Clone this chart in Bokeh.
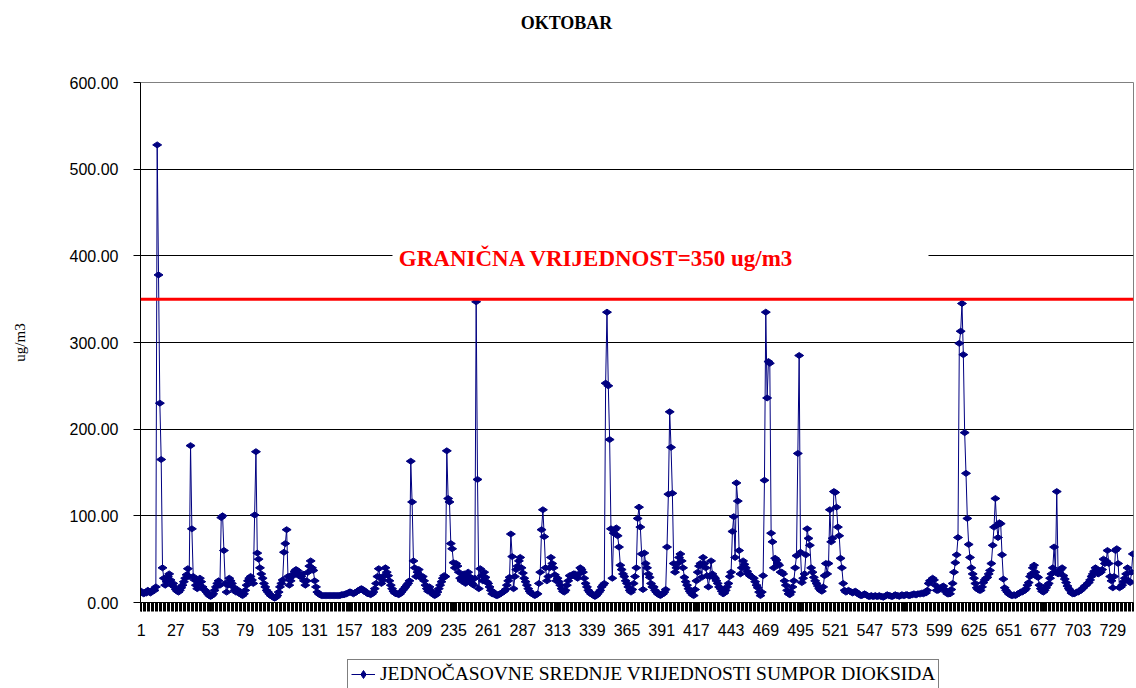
import numpy as np
from bokeh.plotting import figure
from bokeh.layouts import column
from bokeh.models import (Range1d, FixedTicker, PrintfTickFormatter, Span, Label,
                          BoxAnnotation, Legend, LegendItem)
from bokeh.embed import file_html
from bokeh.resources import INLINE

chart_title = "OKTOBAR"
series_name = "JEDNOČASOVNE SREDNJE VRIJEDNOSTI SUMPOR DIOKSIDA"
y_axis_title = "ug/m3"
limit_value = 350
limit_text = "GRANIČNA VRIJEDNOST=350 ug/m3"
x_tick_labels = [1, 27, 53, 79, 105, 131, 157, 183, 209, 235, 261, 287, 313, 339,
                 365, 391, 417, 443, 469, 495, 521, 547, 573, 599, 625, 651, 677, 703, 729]
y_tick_values = [0, 100, 200, 300, 400, 500, 600]

# hourly SO2 values (ug/m3), one list per day of October
day01 = [13, 11, 10, 12, 11, 14, 12, 11, 13, 15, 14, 18, 528, 378, 230, 165, 40, 28, 20, 24, 30, 33, 26, 20]
day02 = [22, 18, 15, 13, 12, 14, 17, 20, 24, 28, 32, 39, 30, 181, 85, 30, 26, 20, 16, 22, 28, 24, 18, 15]
day03 = [14, 12, 10, 8, 7, 8, 10, 14, 18, 22, 25, 20, 98, 100, 60, 22, 12, 20, 28, 25, 22, 18, 14, 12]
day04 = [15, 12, 10, 9, 8, 10, 14, 20, 25, 28, 30, 26, 22, 101, 174, 57, 50, 40, 33, 28, 22, 18, 14, 12]
day05 = [10, 8, 7, 6, 5, 6, 8, 12, 18, 22, 26, 58, 68, 84, 30, 20, 25, 30, 33, 36, 38, 37, 33, 30]
day06 = [30, 33, 25, 20, 25, 35, 42, 48, 40, 37, 25, 18, 12, 10, 9, 8, 8, 8, 8, 8, 8, 8, 8, 8]
day07 = [8, 8, 8, 8, 8, 8, 9, 9, 9, 10, 10, 11, 12, 12, 11, 10, 11, 12, 13, 14, 15, 16, 15, 14]
day08 = [12, 11, 10, 10, 9, 10, 12, 16, 22, 30, 39, 29, 22, 26, 31, 40, 35, 31, 25, 20, 16, 13, 11, 10]
day09 = [10, 9, 10, 12, 14, 16, 18, 20, 22, 25, 163, 116, 48, 40, 30, 35, 38, 31, 28, 30, 25, 20, 16, 13]
day10 = [18, 14, 11, 9, 8, 9, 12, 16, 20, 24, 28, 31, 30, 175, 120, 116, 68, 62, 46, 40, 45, 42, 35, 28]
day11 = [25, 30, 33, 22, 28, 35, 30, 25, 22, 20, 28, 347, 142, 16, 39, 31, 25, 35, 29, 24, 22, 18, 14, 10]
day12 = [12, 9, 8, 8, 9, 10, 11, 12, 13, 15, 20, 25, 29, 79, 53, 16, 30, 38, 42, 48, 52, 40, 34, 28]
day13 = [24, 20, 16, 13, 11, 10, 9, 8, 9, 10, 22, 35, 84, 107, 76, 40, 25, 30, 40, 52, 45, 40, 32, 25]
day14 = [28, 24, 20, 16, 13, 12, 14, 20, 25, 31, 30, 32, 33, 33, 30, 28, 33, 40, 38, 35, 28, 22, 18, 14]
day15 = [12, 10, 9, 8, 7, 8, 10, 12, 14, 18, 20, 22, 253, 335, 250, 188, 85, 28, 80, 84, 86, 77, 64, 43]
day16 = [38, 33, 30, 25, 22, 18, 14, 12, 15, 22, 30, 40, 97, 110, 87, 56, 15, 57, 45, 40, 33, 29, 22, 18]
day17 = [18, 14, 12, 10, 9, 8, 9, 10, 12, 15, 64, 125, 220, 179, 126, 45, 35, 40, 45, 52, 56, 48, 40, 29]
day18 = [24, 20, 16, 13, 11, 9, 8, 15, 25, 35, 42, 45, 29, 52, 45, 40, 31, 18, 30, 48, 33, 30, 28, 25]
day19 = [22, 18, 16, 13, 10, 11, 14, 18, 22, 30, 35, 82, 99, 52, 138, 117, 60, 33, 40, 48, 44, 40, 36, 33]
day20 = [31, 30, 29, 28, 24, 20, 17, 12, 8, 12, 31, 141, 335, 236, 278, 276, 80, 70, 40, 51, 49, 45, 43, 35]
day21 = [35, 33, 25, 20, 14, 10, 9, 12, 18, 25, 40, 54, 172, 285, 58, 23, 28, 33, 55, 85, 74, 66, 40, 35]
day22 = [29, 25, 22, 19, 16, 14, 13, 18, 31, 45, 33, 45, 107, 70, 74, 128, 127, 110, 87, 77, 51, 40, 22, 14]
day23 = [12, 13, 14, 13, 12, 11, 12, 13, 12, 10, 9, 8, 8, 9, 10, 9, 8, 7, 7, 8, 7, 7, 8, 7]
day24 = [7, 8, 7, 7, 6, 7, 8, 9, 8, 8, 7, 7, 8, 9, 8, 8, 7, 8, 9, 8, 8, 9, 9, 8]
day25 = [8, 9, 9, 10, 9, 9, 10, 10, 10, 11, 10, 11, 11, 14, 22, 25, 26, 28, 26, 20, 14, 14, 16, 16]
day26 = [18, 19, 15, 12, 10, 10, 10, 15, 22, 35, 46, 55, 75, 299, 313, 345, 286, 196, 149, 97, 67, 52, 40, 33]
day27 = [28, 22, 17, 15, 14, 14, 18, 23, 26, 28, 29, 33, 37, 45, 66, 87, 120, 89, 75, 92, 91, 55, 27, 17]
day28 = [14, 12, 10, 9, 8, 8, 9, 8, 9, 10, 11, 12, 12, 13, 14, 16, 20, 23, 30, 33, 40, 43, 35, 30]
day29 = [29, 20, 16, 13, 12, 14, 17, 20, 22, 28, 33, 40, 64, 35, 128, 33, 35, 38, 40, 31, 27, 23, 19, 16]
day30 = [14, 11, 10, 10, 11, 12, 12, 13, 14, 16, 17, 19, 20, 22, 23, 26, 30, 33, 36, 40, 37, 33, 34, 35]
day31 = [38, 50, 45, 48, 60, 45, 30, 25, 17, 30, 60, 62, 45, 17, 18, 20, 24, 28, 33, 40, 25, 23, 35, 56]

days = [day01, day02, day03, day04, day05, day06, day07, day08, day09, day10,
        day11, day12, day13, day14, day15, day16, day17, day18, day19, day20,
        day21, day22, day23, day24, day25, day26, day27, day28, day29, day30, day31]
so2 = [v for d in days for v in d]
hours = list(range(1, len(so2) + 1))
n = len(so2)

W = 1136
TOP_H, MAIN_H, LEG_H = 44, 600, 44
FRAME_L, FRAME_R = 140, 1133   # page x of the plot frame (strips share it)
NAVY = "#000080"


def strip_figure(height, y_lo, y_hi):
    # x data units = page pixels, because the column aligns all frames
    f = figure(width=W, height=height, output_backend="svg", toolbar_location=None,
               x_range=Range1d(FRAME_L, FRAME_R), y_range=Range1d(y_lo, y_hi),
               x_axis_location=None, y_axis_location=None,
               min_border=0, min_border_left=FRAME_L, min_border_right=W - FRAME_R,
               min_border_top=0, min_border_bottom=0,
               background_fill_color="white", border_fill_color="white")
    f.grid.visible = False
    f.outline_line_color = None
    return f


# ---- title strip ----
p_top = strip_figure(TOP_H, 0, TOP_H)
p_top.add_layout(Label(x=566, y=TOP_H - 22, text=chart_title, text_align="center",
                       text_baseline="middle", text_font="Liberation Serif",
                       text_font_style="bold", text_font_size="18px",
                       text_color="#000000"))

# ---- main chart ----
p = figure(width=W, height=MAIN_H, output_backend="svg", toolbar_location=None,
           x_range=Range1d(0.5, n + 0.5), y_range=Range1d(0, 600),
           min_border_left=FRAME_L, min_border_right=W - FRAME_R,
           min_border_top=38, min_border_bottom=42,
           background_fill_color="white", border_fill_color="white")
p.outline_line_color = "#808080"
p.outline_line_width = 1

p.xgrid.visible = False
p.ygrid.grid_line_color = "#000000"
p.ygrid.grid_line_width = 1

p.yaxis.ticker = FixedTicker(ticks=y_tick_values)
p.yaxis.formatter = PrintfTickFormatter(format="%.2f")
p.yaxis.major_label_text_font = "Liberation Sans"
p.yaxis.major_label_text_font_size = "16px"
p.yaxis.major_label_text_color = "#000000"
p.yaxis.major_tick_in = 0
p.yaxis.major_tick_out = 7
p.yaxis.major_tick_line_color = "#000000"
p.yaxis.minor_tick_line_color = None
p.yaxis.axis_line_color = "#000000"
p.yaxis.major_label_standoff = 15
p.yaxis.axis_label = y_axis_title
p.yaxis.axis_label_text_font = "Liberation Serif"
p.yaxis.axis_label_text_font_size = "15px"
p.yaxis.axis_label_text_font_style = "normal"
p.yaxis.axis_label_text_color = "#000000"
p.yaxis.axis_label_standoff = 39

p.xaxis.ticker = FixedTicker(ticks=x_tick_labels,
                             minor_ticks=list(np.arange(0.5, n + 1, 1.0)))
p.xaxis.major_label_text_font = "Liberation Sans"
p.xaxis.major_label_text_font_size = "16px"
p.xaxis.major_label_text_color = "#000000"
p.xaxis.major_tick_in = 0
p.xaxis.major_tick_out = 9
p.xaxis.minor_tick_in = 0
p.xaxis.minor_tick_out = 9
p.xaxis.major_tick_line_color = "#000000"
p.xaxis.minor_tick_line_color = "#000000"
p.xaxis.axis_line_color = "#000000"
p.xaxis.major_label_standoff = 12

p.line(hours, so2, line_color=NAVY, line_width=1)
p.scatter(hours, so2, marker="diamond", size=9, angle=np.pi / 2,
          fill_color=NAVY, line_color=NAVY)

p.add_layout(Span(location=limit_value, dimension="width",
                  line_color="#FF0000", line_width=3))
# white text box of the limit label hides the 400 gridline behind it
p.add_layout(BoxAnnotation(left=189.3, right=590.9, bottom=380, top=414,
                           fill_color="white", fill_alpha=1.0, line_color=None))
p.add_layout(Label(x=342.1, y=397, text=limit_text, text_align="center",
                   text_baseline="middle", text_font="Liberation Serif",
                   text_font_style="bold", text_font_size="23px",
                   text_color="#FF0000"))

# ---- legend strip (series drawn out of view; only its legend entry shows) ----
p_leg = strip_figure(LEG_H, -2000, -2000 + LEG_H)
leg_line = p_leg.line(hours, so2, line_color=NAVY, line_width=1)
leg_mark = p_leg.scatter(hours, so2, marker="diamond", size=9, angle=np.pi / 2,
                         fill_color=NAVY, line_color=NAVY)
legend = Legend(items=[LegendItem(label=series_name, renderers=[leg_line, leg_mark])],
                location=(347 - FRAME_L, -1), orientation="horizontal",
                label_text_font="Liberation Serif", label_text_font_size="19.5px",
                label_text_color="#000000",
                glyph_width=24, glyph_height=20, label_height=20, label_standoff=5,
                padding=3, margin=0, spacing=0,
                border_line_color="#000000", border_line_width=1,
                background_fill_color="white", background_fill_alpha=1.0)
p_leg.add_layout(legend, "center")

layout = column(p_top, p, p_leg, spacing=0)
open("out.html", "w").write(file_html(layout, INLINE))
